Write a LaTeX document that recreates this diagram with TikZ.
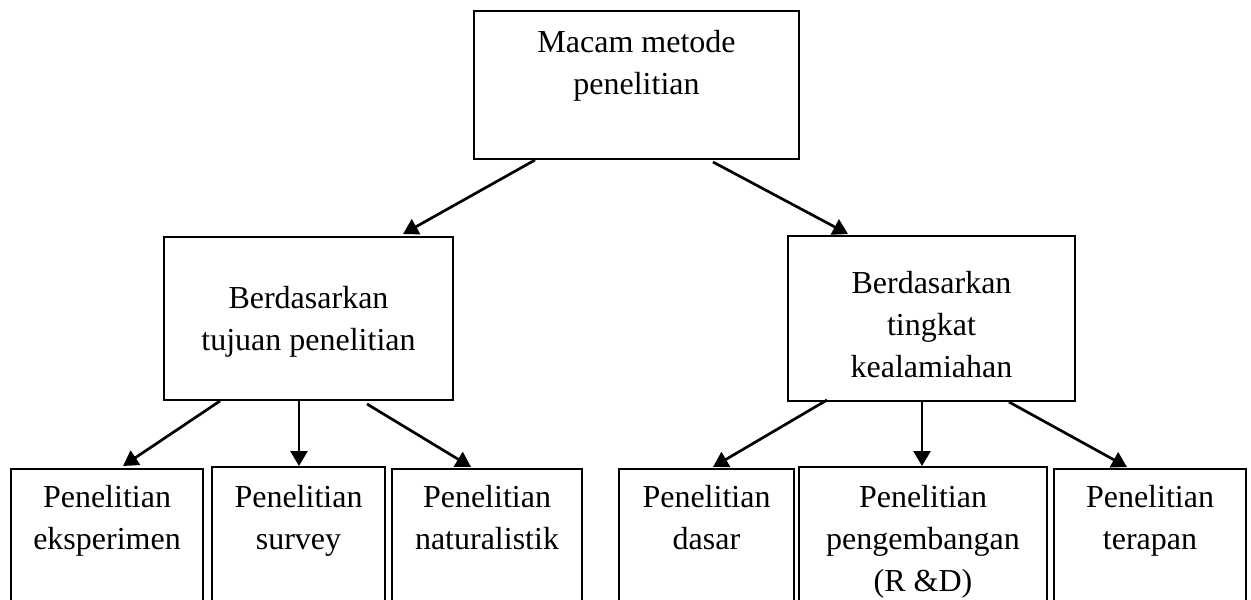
\documentclass[tikz,border=0pt]{standalone}
\usepackage{fontspec}
\setmainfont{Liberation Serif}
\usetikzlibrary{calc,arrows.meta}

\tikzset{
  box/.style={draw=black, line width=2.7pt, rectangle, inner sep=0pt, outer sep=0pt, fill=white},
  lbl/.style={anchor=north, align=center, inner sep=0pt, text=black,
              font=\fontsize{32}{42}\selectfont},
  arr/.style={draw=black, line width=2.7pt,
              -{Triangle[length=15pt,width=17pt]}},
}

\begin{document}
\begin{tikzpicture}[x=1pt,y=-1pt]
  \useasboundingbox (0,0) rectangle (1251,600);
  \clip (0,0) rectangle (1251,600);
  \fill[white] (0,0) rectangle (1251,600);

  % root
  \node[box, minimum width=325pt, minimum height=148pt] (root) at (636.5,85) {};
  % second level
  \node[box, minimum width=289pt, minimum height=163pt] (tujuan) at (308.5,318.5) {};
  \node[box, minimum width=287pt, minimum height=165pt] (alami) at (931.5,318.5) {};
  % leaves (they run past the lower edge)
  \node[box, minimum width=192pt, minimum height=171pt] (eksp) at (107,554.5) {};
  \node[box, minimum width=173pt, minimum height=173pt] (surv) at (298.5,553.5) {};
  \node[box, minimum width=190pt, minimum height=171pt] (nat)  at (487,554.5) {};
  \node[box, minimum width=175pt, minimum height=171pt] (dasar) at (706.5,554.5) {};
  \node[box, minimum width=248pt, minimum height=173pt] (rnd) at (923,553.5) {};
  \node[box, minimum width=192pt, minimum height=171pt] (terap) at (1150,554.5) {};

  % labels
  \node[lbl] (rootT) at ($(root.north)+(0,19)$) {Macam metode\\penelitian};
  \node[lbl] (tujuanT) at ($(tujuan.north)+(0,49)$) {Berdasarkan\\tujuan penelitian};
  \node[lbl] (alamiT) at ($(alami.north)+(0,35)$) {Berdasarkan\\tingkat\\kealamiahan};
  \node[lbl] (ekspT) at ($(eksp.north)+(0,16)$) {Penelitian\\eksperimen};
  \node[lbl] (survT) at ($(surv.north)+(0,18)$) {Penelitian\\survey};
  \node[lbl] (natT) at ($(nat.north)+(0,16)$) {Penelitian\\naturalistik};
  \node[lbl] (dasarT) at ($(dasar.north)+(0,16)$) {Penelitian\\dasar};
  \node[lbl] (rndT) at ($(rnd.north)+(0,18)$) {Penelitian\\pengembangan\\(R \&D)};
  \node[lbl] (terapT) at ($(terap.north)+(0,16)$) {Penelitian\\terapan};

  % connectors
  \draw[arr] ($(root.south west)+(61,1)$) -- ($(tujuan.north west)+(239,-3)$);
  \draw[arr] ($(root.south west)+(239,3)$) -- ($(alami.north west)+(60,-2)$);

  \draw[arr] ($(tujuan.south west)+(56,1)$) -- ($(eksp.north west)+(112,-3)$);
  \draw[arr] ($(tujuan.south west)+(135,0)$) -- ($(surv.north west)+(87,-1)$);
  \draw[arr] ($(tujuan.south west)+(203,4)$) -- ($(nat.north west)+(79,-2)$);

  \draw[arr] ($(alami.south west)+(39,-1)$) -- ($(dasar.north west)+(94,-2)$);
  \draw[arr] ($(alami.south west)+(134,0)$) -- ($(rnd.north west)+(123,-1)$);
  \draw[arr] ($(alami.south west)+(221,1)$) -- ($(terap.north west)+(73,-2)$);
\end{tikzpicture}
\end{document}
